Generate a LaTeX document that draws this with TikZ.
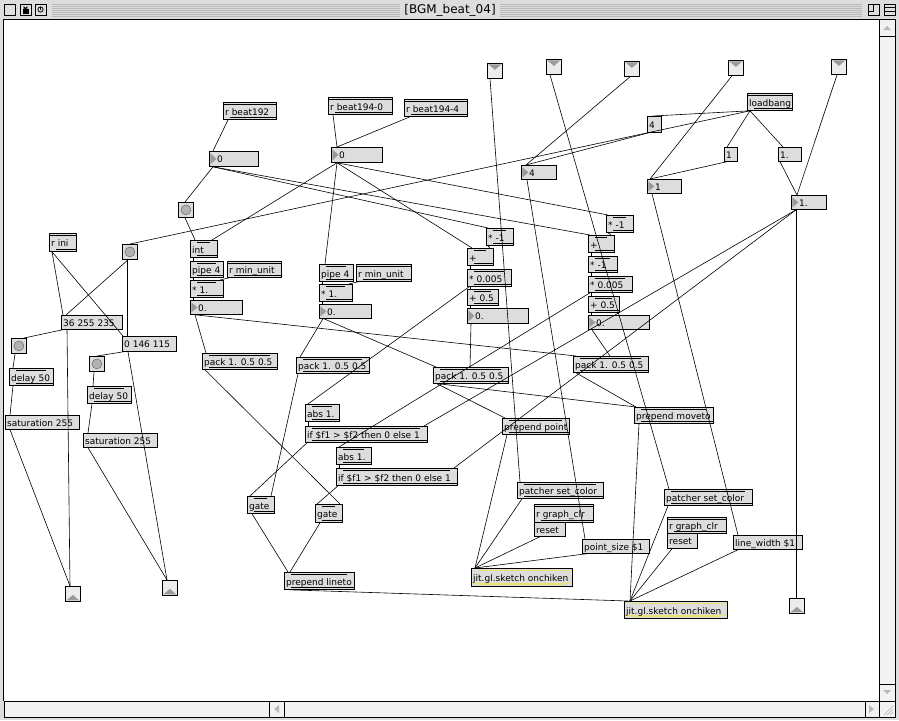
\documentclass[tikz,border=0pt]{standalone}
\usepackage{fontspec}
\setmainfont{DejaVu Sans}
\definecolor{boxfill}{HTML}{DDDDDD}
\definecolor{chrome}{HTML}{DDDDDD}
\definecolor{trig}{HTML}{9A9A9A}
\definecolor{jity}{HTML}{E8E070}
\tikzset{
  cord/.style={line width=0.6pt},
  basebox/.style={draw=black, line width=0.8pt, fill=boxfill, inner sep=0pt, anchor=north west, rectangle},
  objbox/.style={basebox, path picture={
    \draw[line width=0.6pt] ([yshift=-2.2pt]path picture bounding box.north west) -- ([yshift=-2.2pt]path picture bounding box.north east);
    \draw[line width=0.6pt] ([yshift=2.2pt]path picture bounding box.south west) -- ([yshift=2.2pt]path picture bounding box.south east);
    \fill (path picture bounding box.north west) rectangle ++(7pt,-2.2pt);
    \fill (path picture bounding box.north east) rectangle ++(-7pt,-2.2pt);
    \fill (path picture bounding box.south west) rectangle ++(7pt,2.2pt);}},
  robj/.style={basebox, path picture={
    \draw[line width=0.6pt] ([yshift=-2.2pt]path picture bounding box.north west) -- ([yshift=-2.2pt]path picture bounding box.north east);
    \draw[line width=0.6pt] ([yshift=2.2pt]path picture bounding box.south west) -- ([yshift=2.2pt]path picture bounding box.south east);
    \fill (path picture bounding box.south west) rectangle ++(7pt,2.2pt);}},
  jitbox/.style={basebox, path picture={
    \draw[jity, line width=1.2pt] ([yshift=-2.4pt]path picture bounding box.north west) -- ([yshift=-2.4pt]path picture bounding box.north east);
    \draw[jity, line width=1.2pt] ([yshift=2.4pt]path picture bounding box.south west) -- ([yshift=2.4pt]path picture bounding box.south east);
    \fill (path picture bounding box.north west) rectangle ++(7pt,-2.2pt);
    \fill (path picture bounding box.south west) rectangle ++(7pt,2.2pt);
    \fill (path picture bounding box.south east) rectangle ++(-7pt,2.2pt);}},
  msgbox/.style={basebox, line width=0.7pt},
  numbox/.style={basebox, path picture={
    \fill[trig] ([xshift=1pt,yshift=-2pt]path picture bounding box.north west) -- ([xshift=1pt,yshift=2pt]path picture bounding box.south west) -- ([xshift=7pt]path picture bounding box.west) -- cycle;}},
  btnbox/.style={basebox, minimum size=15pt, path picture={
    \fill[gray!60] (path picture bounding box.center) circle (5pt);
    \draw[gray!70!black, line width=0.4pt] (path picture bounding box.center) circle (5pt);}},
  inbox/.style={basebox, minimum size=15pt, fill=gray!15, path picture={
    \fill[trig] ([xshift=1pt,yshift=-1pt]path picture bounding box.north west) -- ([xshift=-1pt,yshift=-1pt]path picture bounding box.north east) -- ([yshift=1pt]path picture bounding box.center) -- cycle;
    \fill (path picture bounding box.south west) rectangle ++(7pt,2pt);}},
  outbox/.style={basebox, minimum size=15pt, fill=gray!15, path picture={
    \fill[trig] ([xshift=1pt,yshift=1pt]path picture bounding box.south west) -- ([xshift=-1pt,yshift=1pt]path picture bounding box.south east) -- ([yshift=-1pt]path picture bounding box.center) -- cycle;
    \fill (path picture bounding box.north west) rectangle ++(7pt,-2pt);}},
  lbl/.style={anchor=west, inner sep=0pt, font=\fontsize{9}{10}\selectfont, text height=6.6pt, text depth=1.6pt}
}
\newcommand\ob[7][objbox]{\node[#1,minimum width=#5pt,minimum height=#6pt] (#2) at (#3,#4) {}; \node[lbl] (#2t) at ([xshift=2pt,yshift=-1.6pt]#2.west) {#7};}
\newcommand\nb[6]{\node[numbox,minimum width=#4pt,minimum height=#5pt] (#1) at (#2,#3) {}; \node[lbl] (#1t) at ([xshift=8pt,yshift=-1.2pt]#1.west) {#6};}
\newcommand\sq[4]{\node[#1] (#2) at (#3,#4) {};}
\newcommand\cc[4]{\draw[cord] ([xshift=#2pt]#1.south west) -- ([xshift=#4pt]#3.north west);}
\begin{document}
\begin{tikzpicture}[x=1pt,y=-1pt]
\useasboundingbox (0,0) rectangle (899,720);
% ---------- window chrome ----------
\fill[chrome] (0,0) rectangle (899,720);
\foreach \yy in {4,6,...,16} {
  \draw[gray!55, line width=0.6pt] (52,\yy) -- (400,\yy);
  \draw[gray!55, line width=0.6pt] (500,\yy) -- (862,\yy);
}
\node[font=\fontsize{12}{12}\selectfont, inner sep=0pt] (title) at (450,10) {[BGM\_beat\_04]};
\draw[fill=gray!25, line width=0.6pt] (4,4) rectangle (15,15);
\draw[fill=gray!25, line width=0.6pt] (20,4) rectangle (31,15);
\draw[fill=black] (23,9) rectangle (28,13);
\draw[line width=0.8pt] (24,9) -- (24,7) arc (180:0:1.5) -- (27,9);
\draw[fill=gray!25, line width=0.6pt] (35,4) rectangle (46,15);
\draw[line width=0.8pt] (40.5,9.5) circle (2.6);
\draw[line width=0.8pt] (40.5,6.5) -- (40.5,9.5);
\draw[fill=gray!25, line width=0.6pt] (868,4) rectangle (879,15);
\draw[line width=0.6pt] (868,11) -- (873,11) -- (873,4);
\draw[fill=gray!25, line width=0.6pt] (884,4) rectangle (895,15);
\draw[line width=0.6pt] (884,7.5) -- (895,7.5) (884,11) -- (895,11);
% content area
\fill[white] (4,19) rectangle (879,701);
\draw[line width=0.8pt] (3.5,19) -- (3.5,701);
\draw[line width=0.8pt] (3.5,19.5) -- (879,19.5);
% right scrollbar
\fill[gray!10] (879,19) rectangle (895,701);
\draw[line width=0.7pt] (879,19) rectangle (895,701);
\draw[line width=0.7pt] (879,36) -- (895,36);
\fill[gray!55] (883,30) -- (891,30) -- (887,26) -- cycle;
\draw[line width=0.7pt] (879,684) -- (895,684);
\fill[gray!55] (883,690) -- (891,690) -- (887,694) -- cycle;
% bottom scrollbar
\fill[gray!10] (4,701) rectangle (879,717);
\draw[line width=0.7pt] (4,701) rectangle (879,717);
\draw[line width=0.7pt] (269,701) -- (269,717) (284,701) -- (284,717);
\fill[gray!55] (274,709) -- (279,705) -- (279,713) -- cycle;
\draw[line width=0.7pt] (865,701) -- (865,717);
\fill[gray!55] (874,709) -- (869,705) -- (869,713) -- cycle;
\fill[gray!10] (879,701) rectangle (895,717);
\draw[line width=0.7pt] (879,701) rectangle (895,717);
\draw[gray!60, line width=0.6pt] (884,715) -- (893,706) (887,715) -- (893,709) (890,715) -- (893,712);
% ---------- objects ----------
\sq{inbox}{inA}{487}{63}
\sq{inbox}{inB}{546}{59}
\sq{inbox}{inC}{624}{61}
\sq{inbox}{inD}{728}{60}
\sq{inbox}{inE}{831}{59}
\ob[robj]{loadbang}{747}{93}{45}{17}{loadbang}
\ob[msgbox]{mfour}{647}{116}{14}{16}{4}
\ob[msgbox]{mone}{724}{147}{13}{14}{1}
\ob[msgbox]{monef}{778}{147}{23}{14}{1.}
\nb{none}{647}{179}{34}{14}{1}
\nb{nonef}{791}{195}{35}{14}{1.}
\ob[robj]{rbeatA}{223}{102}{53}{17}{r beat192}
\nb{nza}{209}{151}{49}{15}{0}
\ob[robj]{rbeatB}{328}{97}{64}{17}{r beat194-0}
\ob[robj]{rbeatC}{404}{99}{63}{17}{r beat194-4}
\nb{nzb}{331}{147}{51}{15}{0}
\nb{nfour}{521}{165}{35}{14}{4}
\sq{btnbox}{btnA}{178}{202}
\ob[robj]{rini}{49}{233}{27}{18}{r ini}
\sq{btnbox}{btnB}{122}{244}
\ob{intA}{190}{240}{27}{17}{int}
\ob{pipeA}{190}{261}{33}{16}{pipe 4}
\ob[robj]{rminA}{227}{261}{54}{16}{r min\_unit}
\ob{mulA}{190}{280}{33}{17}{* 1.}
\nb{fA}{190}{300}{52}{14}{0.}
\ob{pipeB}{319}{264}{34}{17}{pipe 4}
\ob[robj]{rminB}{356}{264}{55}{17}{r min\_unit}
\ob{mulB}{319}{284}{33}{17}{* 1.}
\nb{fB}{319}{304}{52}{14}{0.}
\ob{negL}{486}{228}{27}{17}{* -1}
\ob{addL}{467}{248}{26}{17}{+}
\ob{mzL}{467}{269}{44}{17}{* 0.005}
\ob{phL}{467}{289}{31}{16}{+ 0.5}
\nb{fL}{467}{308}{61}{15}{0.}
\ob{negRa}{606}{215}{27}{17}{* -1}
\ob{addR}{588}{235}{26}{17}{+}
\ob{negRb}{588}{256}{29}{16}{* -1}
\ob{mzR}{588}{276}{44}{16}{* 0.005}
\ob{phR}{588}{296}{31}{16}{+ 0.5}
\nb{fR}{588}{315}{61}{14}{0.}
\ob{packA}{202}{353}{75}{16}{pack 1. 0.5 0.5}
\ob{packB}{296}{357}{73}{16}{pack 1. 0.5 0.5}
\ob{packM}{433}{367}{75}{16}{pack 1. 0.5 0.5}
\ob{packR}{573}{356}{75}{16}{pack 1. 0.5 0.5}
\ob[msgbox]{mcolA}{61}{315}{61}{14}{36 255 235}
\ob[msgbox]{mcolB}{122}{336}{54}{15}{0 146 115}
\sq{btnbox}{btnL}{11}{338}
\ob{delL}{9}{368}{44}{17}{delay 50}
\ob[msgbox]{satL}{5}{415}{74}{14}{saturation 255}
\sq{btnbox}{btnM}{89}{356}
\ob{delM}{87}{386}{44}{17}{delay 50}
\ob[msgbox]{satM}{83}{433}{74}{14}{saturation 255}
\ob{ppoint}{502}{418}{67}{16}{prepend point}
\ob{pmove}{634}{407}{79}{16}{prepend moveto}
\ob{absU}{305}{404}{34}{17}{abs 1.}
\ob{ifU}{305}{426}{122}{16}{if \$f1 > \$f2 then 0 else 1}
\ob{absL}{336}{447}{35}{17}{abs 1.}
\ob{ifL}{336}{468}{121}{17}{if \$f1 > \$f2 then 0 else 1}
\ob{gateL}{247}{496}{27}{17}{gate}
\ob{gateR}{315}{504}{27}{18}{gate}
\ob{pline}{284}{572}{70}{17}{prepend lineto}
\sq{outbox}{outL}{65}{586}
\sq{outbox}{outM}{162}{580}
\sq{outbox}{outR}{789}{598}
\ob{psetL}{517}{482}{86}{16}{patcher set\_color}
\ob[robj]{rgcL}{534}{504}{59}{18}{r graph\_clr}
\ob[msgbox]{resetL}{534}{522}{31}{14}{reset}
\ob[msgbox]{psize}{582}{539}{67}{14}{point\_size \$1}
\ob[jitbox]{jitL}{471}{568}{101}{18}{jit.gl.sketch onchiken}
\ob{psetR}{664}{489}{88}{16}{patcher set\_color}
\ob[robj]{rgcR}{667}{517}{59}{16}{r graph\_clr}
\ob[msgbox]{resetR}{667}{533}{30}{15}{reset}
\ob[msgbox]{lwidth}{733}{535}{69}{14}{line\_width \$1}
\ob[jitbox]{jitR}{624}{601}{103}{17}{jit.gl.sketch onchiken}
% ---------- connections ----------
\cc{rbeatA}{5}{nza}{4}
\cc{rbeatB}{5}{nzb}{6}
\cc{rbeatC}{6}{nzb}{6}
\cc{nza}{4}{btnA}{7}
\cc{nza}{4}{negL}{2}
\cc{nza}{4}{addR}{2}
\cc{nzb}{6}{intA}{22}
\cc{nzb}{6}{pipeB}{6}
\cc{nzb}{6}{addL}{5}
\cc{nzb}{6}{negRa}{2}
\cc{btnA}{7}{intA}{5}
\cc{intA}{3}{pipeA}{3}
\cc{pipeA}{3}{mulA}{3}
\cc{rminA}{2}{mulA}{30}
\cc{mulA}{3}{fA}{3}
\cc{pipeB}{3}{mulB}{3}
\cc{rminB}{2}{mulB}{30}
\cc{mulB}{3}{fB}{3}
\cc{fA}{5}{packA}{4}
\cc{fA}{5}{packR}{3}
\cc{fB}{4}{packB}{4}
\cc{fB}{5}{packM}{3}
\cc{negL}{2}{addL}{23}
\cc{addL}{3}{mzL}{3}
\cc{mzL}{3}{phL}{3}
\cc{phL}{3}{fL}{3}
\cc{fL}{4}{packM}{37}
\cc{negRa}{2}{addR}{23}
\cc{addR}{3}{negRb}{3}
\cc{negRb}{3}{mzR}{3}
\cc{mzR}{3}{phR}{3}
\cc{phR}{3}{fR}{3}
\cc{fR}{4}{packR}{37}
\cc{mzL}{2}{absU}{3}
\cc{mzR}{2}{absL}{3}
\cc{absU}{3}{ifU}{3}
\cc{absL}{3}{ifL}{3}
\cc{nonef}{5}{ifU}{119}
\cc{nonef}{5}{ifL}{118}
\cc{nonef}{5}{outR}{7}
\cc{ifU}{2}{gateL}{3}
\cc{ifL}{2}{gateR}{2}
\cc{packB}{2}{gateL}{24}
\cc{packA}{3}{gateR}{25}
\cc{gateL}{5}{pline}{4}
\cc{gateR}{5}{pline}{6}
\cc{pline}{5}{jitR}{4}
\cc{packM}{4}{ppoint}{3}
\cc{packM}{6}{pmove}{2}
\cc{packR}{3}{pmove}{2}
\cc{ppoint}{5}{jitL}{4}
\cc{pmove}{5}{jitR}{6}
\cc{inA}{3}{psetL}{3}
\cc{inB}{4}{psetR}{5}
\cc{inC}{6}{nfour}{5}
\cc{mfour}{2}{nfour}{5}
\cc{nfour}{6}{psize}{3}
\cc{none}{5}{lwidth}{5}
\cc{psetL}{5}{jitL}{4}
\cc{resetL}{6}{jitL}{4}
\cc{psize}{5}{jitL}{4}
\cc{psetR}{4}{jitR}{6}
\cc{resetR}{5}{jitR}{6}
\cc{lwidth}{5}{jitR}{6}
\cc{loadbang}{3}{mfour}{6}
\cc{loadbang}{3}{mone}{3}
\cc{loadbang}{3}{monef}{5}
\cc{loadbang}{3}{btnB}{8}
\cc{mone}{3}{none}{3}
\cc{monef}{2}{nonef}{6}
\cc{inD}{4}{none}{3}
\cc{inE}{6}{nonef}{6}
\cc{rini}{3}{mcolA}{2}
\cc{rini}{3}{mcolB}{1}
\cc{btnB}{6}{mcolA}{5}
\cc{btnB}{5}{mcolB}{5}
\cc{mcolA}{2}{btnL}{13}
\cc{mcolA}{6}{outL}{5}
\cc{mcolB}{2}{btnM}{8}
\cc{mcolB}{6}{outM}{5}
\cc{btnL}{4}{delL}{4}
\cc{delL}{4}{satL}{5}
\cc{satL}{5}{outL}{5}
\cc{btnM}{5}{delM}{6}
\cc{delM}{5}{satM}{5}
\cc{satM}{5}{outM}{5}
\end{tikzpicture}
\end{document}
